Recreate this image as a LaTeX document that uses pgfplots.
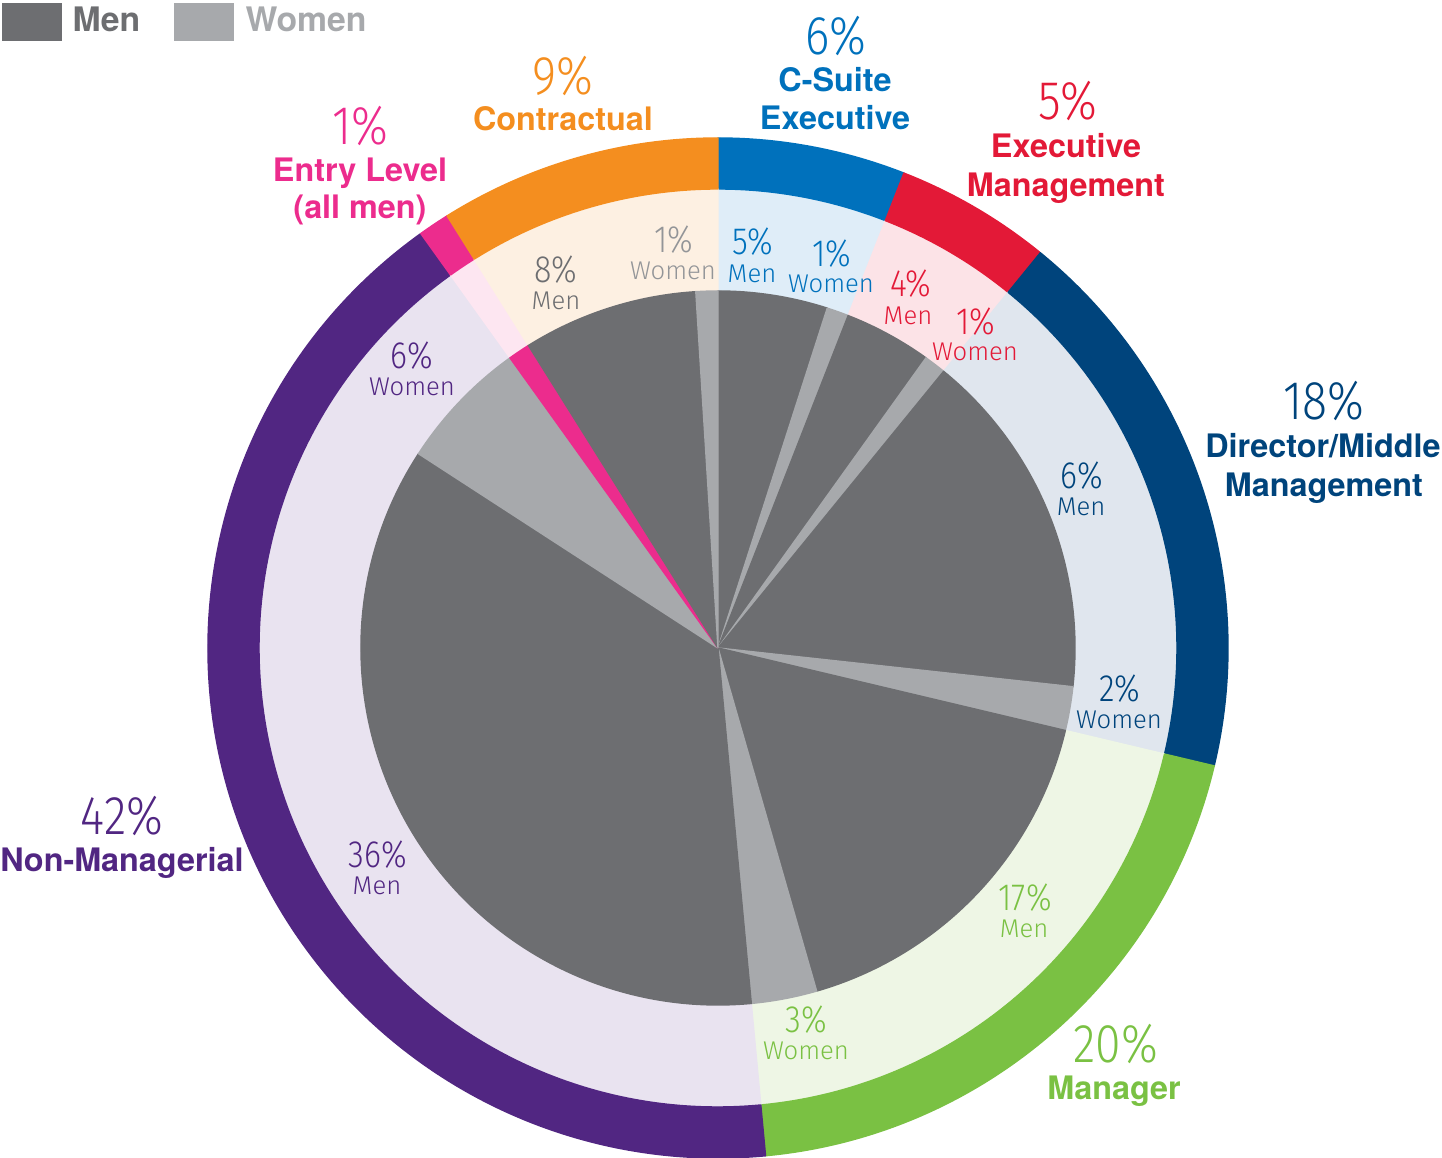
\documentclass[border=0pt]{standalone}
\usepackage{pgfplots}
\pgfplotsset{compat=1.18}
\usepackage{pgfplotstable}
\usepackage{fontspec}
\setmainfont{TeX Gyre Heros}
\newfontfamily\pctf{Fira Sans Light}[FakeStretch=0.85]
\newfontfamily\wordf{Fira Sans Light}
\definecolor{csuite}{HTML}{0071BC}
\definecolor{csuiteL}{HTML}{DFEDF8}
\definecolor{exec}{HTML}{E31937}
\definecolor{execL}{HTML}{FCE3E7}
\definecolor{dir}{HTML}{00447C}
\definecolor{dirL}{HTML}{E0E6EE}
\definecolor{mgr}{HTML}{7AC143}
\definecolor{mgrL}{HTML}{EEF6E5}
\definecolor{nonm}{HTML}{512682}
\definecolor{nonmL}{HTML}{E9E3F0}
\definecolor{entry}{HTML}{EC2C8D}
\definecolor{entryL}{HTML}{FDE6F1}
\definecolor{contr}{HTML}{F48E1F}
\definecolor{contrL}{HTML}{FDF0E2}
\definecolor{men}{HTML}{6D6E71}
\definecolor{women}{HTML}{A7A9AC}
\definecolor{womentxt}{HTML}{939598}

% categories (outer ring), percent of total
\pgfplotstableread{
pct col tint
6 csuite csuiteL
5 exec execL
18 dir dirL
20 mgr mgrL
42 nonm nonmL
1 entry entryL
9 contr contrL
}\outerdata

% men / women split (inner pie), same order
\pgfplotstableread{
pct col
5 men
1 women
4 men
1 women
16 men
2 women
17 men
3 women
36 men
6 women
1 entry
8 men
1 women
}\innerdata

\newcommand\bigpct{\pctf\fontsize{15.5}{15.5}\selectfont}
\newcommand\catf{\bfseries\fontsize{9.2}{9.2}\selectfont}
\newcommand\legf{\bfseries\fontsize{9.6}{9.6}\selectfont}
\newcommand\inpct{\pctf\fontsize{10.8}{10.8}\selectfont}
\newcommand\inword{\wordf\fontsize{7.3}{7.3}\selectfont}

\newcommand\sector[5]{% start, pct, rin, rout, color
  \pgfmathsetmacro\aS{90-(#1)/101*360}%
  \pgfmathsetmacro\aE{90-(#1+#2)/101*360}%
  \pgfmathsetmacro\ri{#3*0.01}%
  \pgfmathsetmacro\ro{#4*0.01}%
  \edef\tmp{\noexpand\fill[#5,draw=#5,line width=0.4pt,line join=round] (axis cs:{#3*cos(\aS)},{#3*sin(\aS)}) arc[start angle=\aS,end angle=\aE,radius=\ri cm] -- (axis cs:{#4*cos(\aE)},{#4*sin(\aE)}) arc[start angle=\aE,end angle=\aS,radius=\ro cm] -- cycle;}%
  \tmp}

\newcommand\txt[5]{\node[anchor=base,text=#3,inner sep=0pt,font=#4] at (axis cs:{#1-718},{648-#2}) {#5};}

\begin{document}
\begin{tikzpicture}
\begin{axis}[x=0.01cm,y=0.01cm,xmin=-718,xmax=724,ymin=-510,ymax=648,hide axis,clip=false]
% outer ring + tints
\pgfplotstablegetrowsof{\outerdata}
\pgfmathtruncatemacro\nrows{\pgfplotsretval-1}
\xdef\cum{0}
\foreach \i in {0,...,\nrows}{%
  \pgfplotstablegetelem{\i}{pct}\of\outerdata\let\wpct\pgfplotsretval
  \pgfplotstablegetelem{\i}{col}\of\outerdata\let\wcol\pgfplotsretval
  \pgfplotstablegetelem{\i}{tint}\of\outerdata\let\wtint\pgfplotsretval
  \sector{\cum}{\wpct}{0.5}{459}{\wtint}
  \sector{\cum}{\wpct}{459}{510}{\wcol}
  \pgfmathsetmacro\nc{\cum+\wpct}\xdef\cum{\nc}
}
% inner pie
\pgfplotstablegetrowsof{\innerdata}
\pgfmathtruncatemacro\nrowsi{\pgfplotsretval-1}
\xdef\cum{0}
\foreach \i in {0,...,\nrowsi}{%
  \pgfplotstablegetelem{\i}{pct}\of\innerdata\let\wpct\pgfplotsretval
  \pgfplotstablegetelem{\i}{col}\of\innerdata\let\wcol\pgfplotsretval
  \sector{\cum}{\wpct}{0.5}{357}{\wcol}
  \pgfmathsetmacro\nc{\cum+\wpct}\xdef\cum{\nc}
}
% legend
\fill[men] (axis cs:-716,645) rectangle (axis cs:-656,607);
\fill[women] (axis cs:-544,645) rectangle (axis cs:-484,607);
\node[anchor=base west,text=men,font=\legf,inner sep=0pt] at (axis cs:-646,616) {Men};
\node[anchor=base west,text=women,font=\legf,inner sep=0pt] at (axis cs:-473,616) {Women};
% category labels
\txt{836}{55}{csuite}{\bigpct}{6\%}
\txt{1068}{120}{exec}{\bigpct}{5\%}
\txt{1324}{420}{dir}{\bigpct}{18\%}
\txt{1116}{1063}{mgr}{\bigpct}{20\%}
\txt{122}{835}{nonm}{\bigpct}{42\%}
\txt{360}{145}{entry}{\bigpct}{1\%}
\txt{563}{95}{contr}{\bigpct}{9\%}
\txt{835}{92}{csuite}{\catf}{C-Suite}
\txt{835}{130}{csuite}{\catf}{Executive}
\txt{1066}{158}{exec}{\catf}{Executive}
\txt{1066}{197}{exec}{\catf}{Management}
\txt{1323}{458}{dir}{\catf}{Director/Middle}
\txt{1324}{497}{dir}{\catf}{Management}
\txt{1114}{1100}{mgr}{\catf}{Manager}
\txt{122}{872}{nonm}{\catf}{Non-Managerial}
\txt{360}{182}{entry}{\catf}{Entry Level}
\txt{360}{219}{entry}{\catf}{(all men)}
\txt{563}{131}{contr}{\catf}{Contractual}
% inner labels
\txt{753}{255}{csuite}{\inpct}{5\%}
\txt{752}{283}{csuite}{\inword}{Men}
\txt{832}{267}{csuite}{\inpct}{1\%}
\txt{831}{293}{csuite}{\inword}{Women}
\txt{911}{297}{exec}{\inpct}{4\%}
\txt{908}{325}{exec}{\inword}{Men}
\txt{976}{335}{exec}{\inpct}{1\%}
\txt{975}{361}{exec}{\inword}{Women}
\txt{1082}{489}{dir}{\inpct}{6\%}
\txt{1081}{516}{dir}{\inword}{Men}
\txt{1120}{702}{dir}{\inpct}{2\%}
\txt{1119}{729}{dir}{\inword}{Women}
\txt{1025}{911}{mgr}{\inpct}{17\%}
\txt{1024}{938}{mgr}{\inword}{Men}
\txt{806}{1033}{mgr}{\inpct}{3\%}
\txt{806}{1060}{mgr}{\inword}{Women}
\txt{378}{868}{nonm}{\inpct}{36\%}
\txt{377}{895}{nonm}{\inword}{Men}
\txt{412}{369}{nonm}{\inpct}{6\%}
\txt{412}{396}{nonm}{\inword}{Women}
\txt{556}{283}{men}{\inpct}{8\%}
\txt{556}{310}{men}{\inword}{Men}
\txt{674}{253}{womentxt}{\inpct}{1\%}
\txt{673}{280}{womentxt}{\inword}{Women}
\end{axis}
\pgfresetboundingbox
\path (current axis.south west) rectangle (current axis.north east);
\end{tikzpicture}
\end{document}
